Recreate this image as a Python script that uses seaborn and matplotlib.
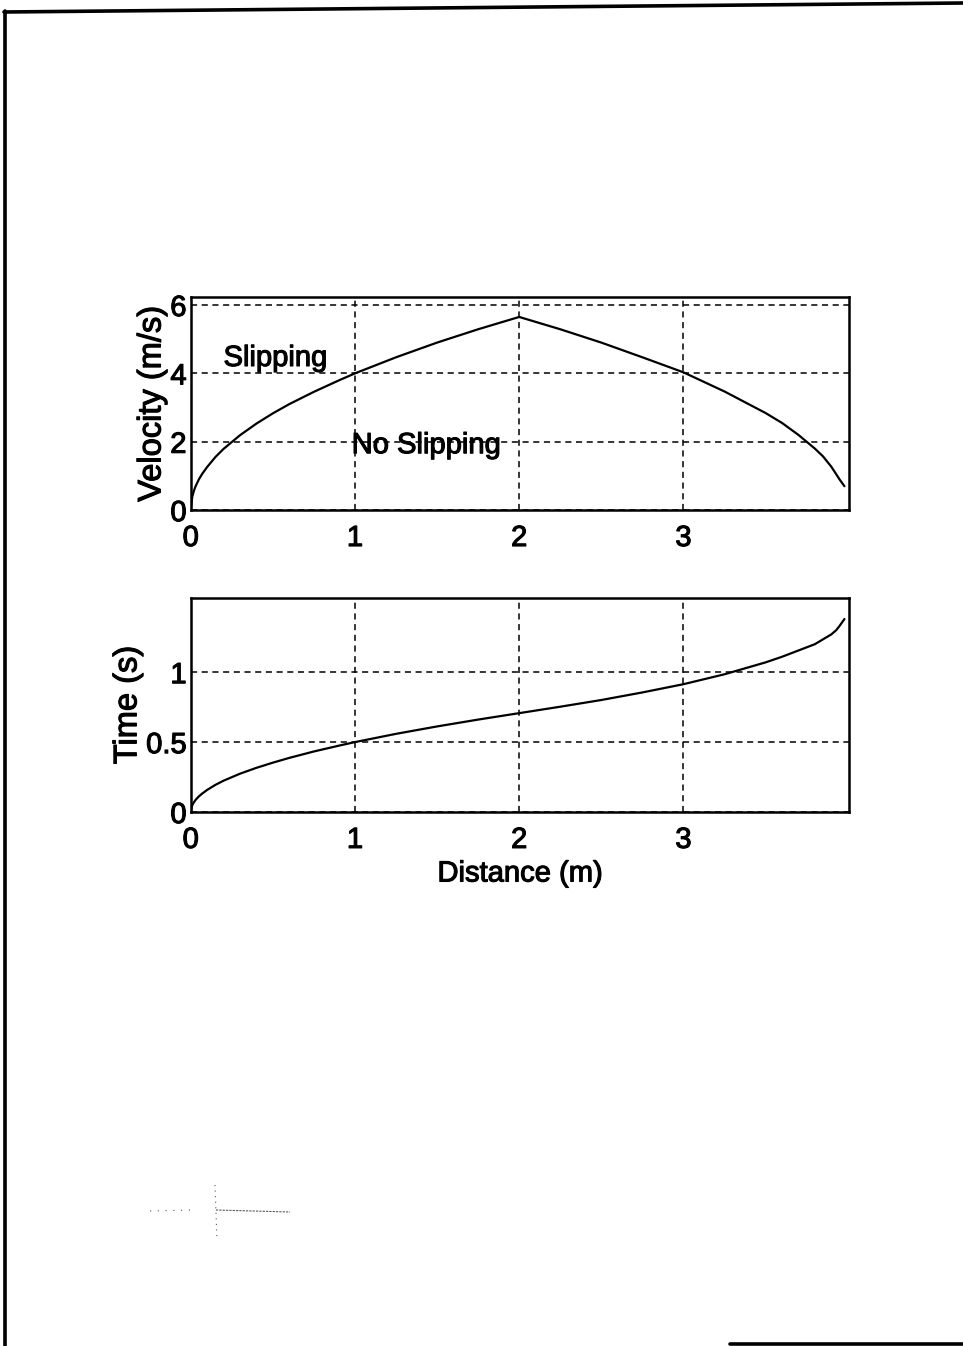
import matplotlib
matplotlib.use("Agg")
import matplotlib.pyplot as plt
import matplotlib.patheffects as pe
import seaborn as sns
import pandas as pd
from matplotlib.lines import Line2D

# Distance along the slope (m)
distance = [0.0, 0.01, 0.02, 0.03, 0.05, 0.07, 0.1, 0.15, 0.2, 0.3, 0.4, 0.5,
            0.6, 0.75, 0.9, 1.0, 1.25, 1.5, 1.75, 2.0, 2.25, 2.5, 2.75, 3.0,
            3.25, 3.5, 3.6, 3.7, 3.8, 3.85, 3.9, 3.93, 3.95, 3.98]
# Velocity (m/s)
velocity = [0.0, 0.4, 0.57, 0.7, 0.9, 1.06, 1.26, 1.55, 1.79, 2.19, 2.53, 2.83,
            3.1, 3.46, 3.79, 4.0, 4.47, 4.9, 5.29, 5.65, 5.29, 4.9, 4.47, 4.03,
            3.47, 2.84, 2.55, 2.2, 1.8, 1.57, 1.27, 1.05, 0.9, 0.7]
# Elapsed time (s)
time_s = [0.0, 0.05, 0.07, 0.087, 0.112, 0.132, 0.158, 0.194, 0.224, 0.274, 0.316, 0.353,
          0.387, 0.433, 0.474, 0.5, 0.559, 0.612, 0.661, 0.707, 0.753, 0.801, 0.855, 0.914,
          0.985, 1.07, 1.11, 1.155, 1.2, 1.235, 1.27, 1.3, 1.33, 1.38]

x_ticks = [0, 1, 2, 3]
v_ticks = [0, 2, 4, 6]
t_ticks = [0, 0.5, 1]
t_tick_labels = ["0", "0.5", "1"]

df = pd.DataFrame({"distance": distance, "velocity": velocity, "time": time_s})

sns.set_style("white")
plt.rcParams["font.family"] = ["Liberation Sans", "DejaVu Sans"]
plt.rcParams["text.color"] = "black"

ink = [pe.withStroke(linewidth=0.8, foreground="black")]

fig = plt.figure(figsize=(9.63, 13.46), dpi=100)
fig.patch.set_facecolor("white")

ax1 = fig.add_axes([0.198, 0.621, 0.684, 0.158])
ax2 = fig.add_axes([0.198, 0.3967, 0.684, 0.159])

sns.lineplot(data=df, x="distance", y="velocity", ax=ax1, color="black",
             linewidth=1.6, sort=False)
sns.lineplot(data=df, x="distance", y="time", ax=ax2, color="black",
             linewidth=1.6, sort=False)

for ax in (ax1, ax2):
    ax.set_xlim(0, 4.01)
    ax.set_xticks(x_ticks)
    ax.grid(True, color="black", linestyle=(0, (4, 3)), linewidth=1.1)
    ax.set_axisbelow(True)
    for s in ax.spines.values():
        s.set_visible(True)
        s.set_color("black")
        s.set_linewidth(1.8)
    ax.tick_params(axis="both", direction="in", length=4, width=1,
                   labelsize=21, colors="black")
    ax.tick_params(axis="x", pad=10)
    ax.tick_params(axis="y", pad=3)
    ax.set_xlabel("")

ax1.set_ylim(0, 6.22)
ax1.set_yticks(v_ticks)
ax1.set_ylabel("Velocity (m/s)", fontsize=23.5, labelpad=2, color="black",
               path_effects=ink)

ax2.set_ylim(0, 1.53)
ax2.set_yticks(t_ticks)
ax2.set_yticklabels(t_tick_labels)
ax2.set_ylabel("Time (s)", fontsize=23.5, labelpad=2, color="black",
               path_effects=ink)
ax2.set_xlabel("Distance (m)", fontsize=21, labelpad=4, color="black",
               path_effects=ink)

for ax in (ax1, ax2):
    for lab in ax.get_xticklabels() + ax.get_yticklabels():
        lab.set_path_effects(ink)

ax1.text(0.2, 4.45, "Slipping", fontsize=21, ha="left", va="center",
         color="black", path_effects=ink)
ax1.text(0.98, 1.9, "No Slipping", fontsize=21, ha="left", va="center",
         color="black", path_effects=ink)

# page frame lines
W, H = 963.0, 1346.0
frame = dict(color="black", linewidth=2.6, transform=fig.transFigure)
fig.add_artist(Line2D([5 / W, 5 / W], [1 - 11 / H, 0.0], **frame))
fig.add_artist(Line2D([4 / W, 1.0], [1 - 12 / H, 1 - 3 / H], **frame))
fig.add_artist(Line2D([730 / W, 1.0], [1 - 1344 / H, 1 - 1344 / H], **frame))

# small stray mark in the lower left corner
stray = dict(color="0.35", linewidth=0.8, transform=fig.transFigure)
fig.add_artist(Line2D([216 / W, 290 / W], [1 - 1210 / H, 1 - 1212 / H],
                      linestyle=(0, (2, 1)), **stray))
fig.add_artist(Line2D([215 / W, 217 / W], [1 - 1185 / H, 1 - 1240 / H],
                      linestyle=(0, (1, 4)), **stray))
fig.add_artist(Line2D([150 / W, 195 / W], [1 - 1211 / H, 1 - 1210 / H],
                      linestyle=(0, (1, 6)), **stray))

fig.savefig("out.png", dpi=100, facecolor="white")
